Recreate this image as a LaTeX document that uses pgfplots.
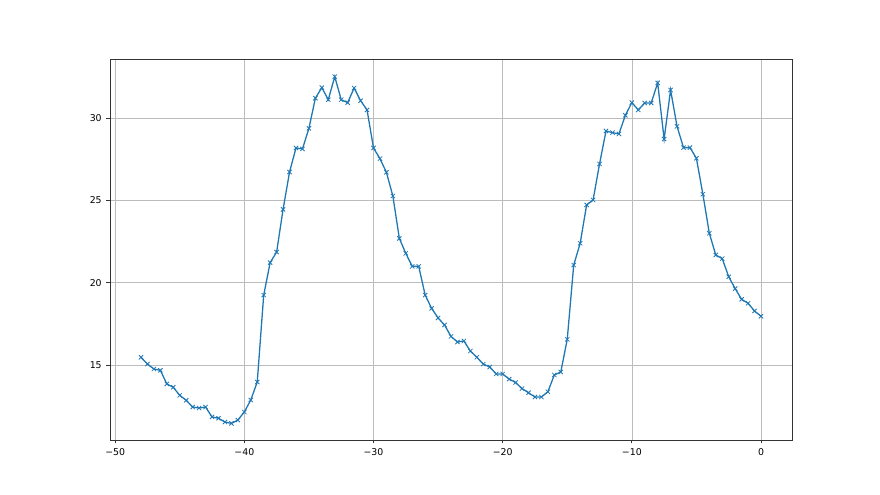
\documentclass[border=0pt]{standalone}
\usepackage{fontspec}
\setmainfont{DejaVu Sans}
\usepackage{pgfplots}
\pgfplotsset{compat=1.18}
\definecolor{mplblue}{HTML}{1F77B4}
\definecolor{gridgray}{HTML}{B0B0B0}

\pgfplotstableread{
x y
-48 15.47
-47.5 15.06
-47 14.76
-46.5 14.68
-46 13.85
-45.5 13.65
-45 13.16
-44.5 12.86
-44 12.45
-43.5 12.39
-43 12.45
-42.5 11.85
-42 11.77
-41.5 11.54
-41 11.46
-40.5 11.66
-40 12.15
-39.5 12.88
-39 13.97
-38.5 19.25
-38 21.22
-37.5 21.86
-37 24.45
-36.5 26.72
-36 28.18
-35.5 28.12
-35 29.37
-34.5 31.20
-34 31.84
-33.5 31.11
-33 32.51
-32.5 31.11
-32 30.93
-31.5 31.82
-31 31.05
-30.5 30.49
-30 28.18
-29.5 27.53
-29 26.70
-28.5 25.26
-28 22.69
-27.5 21.78
-27 20.99
-26.5 20.99
-26 19.25
-25.5 18.44
-25 17.86
-24.5 17.43
-24 16.74
-23.5 16.40
-23 16.46
-22.5 15.85
-22 15.47
-21.5 15.06
-21 14.88
-20.5 14.46
-20 14.46
-19.5 14.15
-19 13.94
-18.5 13.57
-18 13.32
-17.5 13.06
-17 13.06
-16.5 13.38
-16 14.40
-15.5 14.58
-15 16.56
-14.5 21.07
-14 22.39
-13.5 24.72
-13 25.02
-12.5 27.21
-12 29.21
-11.5 29.11
-11 29.03
-10.5 30.16
-10 30.93
-9.5 30.49
-9 30.91
-8.5 30.91
-8 32.13
-7.5 28.72
-7 31.70
-6.5 29.49
-6 28.20
-5.5 28.20
-5 27.55
-4.5 25.37
-4 23.00
-3.5 21.68
-3 21.46
-2.5 20.36
-2 19.64
-1.5 18.99
-1 18.75
-0.5 18.28
0 17.96
}\datatable

\begin{document}
\begin{tikzpicture}
  % frame of the whole 880x495 figure, 1px = 0.03cm
  \path (-3.3cm,-1.65cm) rectangle (23.1cm,13.2cm);
  \begin{axis}[
      at={(0,0)}, anchor=south west,
      scale only axis,
      width=20.46cm, height=11.43cm,
      xmin=-50.4, xmax=2.4,
      ymin=10.45, ymax=33.58,
      xtick={-50,-40,-30,-20,-10,0},
      xticklabels={−50,−40,−30,−20,−10,0},
      ytick={15,20,25,30},
      tick pos=left,
      tick align=outside,
      major tick length=0.105cm,
      tick style={black!80, line width=0.6pt},
      axis line style={black!80, line width=0.6pt},
      grid=major,
      major grid style={gridgray!85, line width=0.5pt},
      tick label style={font=\fontsize{8}{10}\selectfont},
      /pgf/number format/assume math mode=true,
      xticklabel style={yshift=-0.02cm},
      yticklabel style={xshift=-0.02cm},
    ]
    \addplot[mplblue, line width=1.1pt, mark=x,
      mark size=0.09cm, mark options={line width=0.7pt}]
      table[x=x, y=y] {\datatable};
  \end{axis}
\end{tikzpicture}
\end{document}
